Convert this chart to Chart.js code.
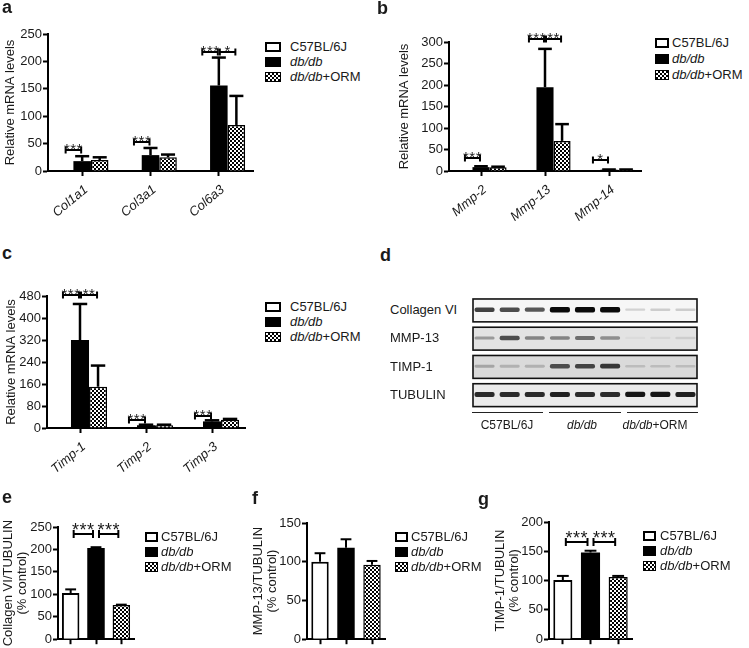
<!DOCTYPE html>
<html>
<head>
<meta charset="utf-8">
<title>Figure</title>
<script src="https://cdn.jsdelivr.net/npm/chart.js@4.4.1/dist/chart.umd.min.js"></script>
<style>
  html,body{margin:0;padding:0;background:#fff;}
  body{width:749px;height:648px;position:relative;overflow:hidden;font-family:'Liberation Sans',Arial,Helvetica,sans-serif;color:#1a1a1a;}
  canvas{position:absolute;}
  .t{position:absolute;white-space:nowrap;}
  .sw{position:absolute;box-sizing:border-box;border:2px solid #000;background:#fff;}
  .sw.k{background:#000;}
  .sw.c{background:repeating-conic-gradient(#000 0 25%,#fff 0 50%) 0 0/4px 4px;border-width:1.5px;}
  .gl{position:absolute;height:1px;background:#222;}
</style>
</head>
<body>
<canvas id="ca"></canvas>
<canvas id="cb"></canvas>
<canvas id="cc"></canvas>
<canvas id="cd"></canvas>
<canvas id="ce"></canvas>
<canvas id="cf"></canvas>
<canvas id="cg"></canvas>
<script>
// ---------------- data ----------------
const GROUPS = ['C57BL/6J', 'db/db', 'db/db+ORM'];

// panel a
const GENES_A = ['Col1a1', 'Col3a1', 'Col6a3'];
const A_WT = [1, 1, 1];
const A_DB = [18, 29, 156];
const A_ORM = [20, 25, 84];
const A_WT_ERR = [0, 0, 0];
const A_DB_ERR = [9, 13, 51];
const A_ORM_ERR = [5, 5, 53];
// [category, from group, to group, height, label]
const A_SIG = [[0, 0, 1, 38, '***'], [1, 0, 1, 53, '***'], [2, 0, 1, 217, '***'], [2, 1, 2, 217, '*']];
const A_YMAX = 250, A_YSTEP = 50;

// panel b
const GENES_B = ['Mmp-2', 'Mmp-13', 'Mmp-14'];
const B_WT = [1, 1, 1];
const B_DB = [9, 195, 3];
const B_ORM = [9, 70, 3];
const B_WT_ERR = [0, 0, 0];
const B_DB_ERR = [2, 89, 0.5];
const B_ORM_ERR = [1, 39, 0.5];
const B_SIG = [[0, 0, 1, 30, '***'], [1, 0, 1, 307, '***'], [1, 1, 2, 307, '**'], [2, 0, 1, 26, '*']];
const B_YMAX = 300, B_YSTEP = 50;

// panel c
const GENES_C = ['Timp-1', 'Timp-2', 'Timp-3'];
const C_WT = [1, 1, 1];
const C_DB = [320, 10, 24];
const C_ORM = [150, 10, 30];
const C_WT_ERR = [0, 0, 0];
const C_DB_ERR = [131, 2, 4];
const C_ORM_ERR = [77, 2, 3];
const C_SIG = [[0, 0, 1, 484, '***'], [0, 1, 2, 484, '**'], [1, 0, 1, 28, '***'], [2, 0, 1, 44, '***']];
const C_YMAX = 480, C_YSTEP = 80;

// panel d (western blot band intensities, 0..1, lanes 1-9)
const BLOT_LANES = ['1', '2', '3', '4', '5', '6', '7', '8', '9'];
const BLOT_PROTEINS = ['Collagen VI', 'MMP-13', 'TIMP-1', 'TUBULIN'];
const BLOT_COL6 = [0.75, 0.7, 0.65, 1, 1, 1, 0.1, 0.12, 0.12];
const BLOT_MMP13 = [0.35, 0.7, 0.45, 0.45, 0.55, 0.4, 0.06, 0.08, 0.12];
const BLOT_TIMP1 = [0.3, 0.25, 0.25, 0.7, 0.75, 0.8, 0.2, 0.2, 0.2];
const BLOT_TUB = [0.85, 0.85, 0.85, 0.9, 0.85, 0.85, 0.95, 0.95, 0.9];

// panels e, f, g (% control)
const E_VALS = [103, 203, 76], E_ERR = [8, 2, 1];
const E_SIG = [[0, 1, 234, '***'], [1, 2, 234, '***']];
const E_YMAX = 250, E_YSTEP = 50;
const F_VALS = [100, 118, 96], F_ERR = [11, 11, 5];
const F_SIG = [];
const F_YMAX = 150, F_YSTEP = 50;
const G_VALS = [101, 148, 106], G_ERR = [7, 3, 2];
const G_SIG = [[0, 1, 166, '***'], [1, 2, 166, '***']];
const G_YMAX = 200, G_YSTEP = 50;

// ---------------- layout / style ----------------
const FONT = "'Liberation Sans', Arial, Helvetica, sans-serif";
const INK = '#1a1a1a';
Chart.defaults.font.family = FONT;
Chart.defaults.color = INK;

const FR = {
  a: {L: 48, R: 253, T: 34, B: 171, yw: 48, pt: 24, xh: 50, pr: 2},
  b: {L: 449, R: 641, T: 42, B: 171, yw: 59, pt: 30, xh: 50, pr: 4},
  c: {L: 47, R: 245, T: 296, B: 428, yw: 47, pt: 26, xh: 45, pr: 4},
  e: {L: 58, R: 134, T: 527, B: 642, yw: 58, pt: 26, xh: 6, pr: 2},
  f: {L: 307, R: 385, T: 523, B: 641, yw: 57, pt: 26, xh: 7, pr: 2},
  g: {L: 549, R: 632, T: 522, B: 640, yw: 59, pt: 26, xh: 8, pr: 2}
};
const TOP_STYLE = {rot: 40, tsize: 13, tlh: 1.2, errW: 2.5, capW: 2.5, cap: 0.8, brW: 2, tick: 3.5, inset: 1, starFont: '15px ' + FONT, starDy: 4, starSp: '0.5px'};
const BOT_STYLE = {rot: 0, tsize: 13, tlh: 1.05, errW: 2, capW: 2, cap: 0.62, brW: 2, tick: 4, inset: 3, starFont: '18px ' + FONT, starDy: 2, starSp: '0.5px'};

function place(id, f) {
  const cv = document.getElementById(id);
  cv.width = f.yw + (f.R - f.L) + f.pr;
  cv.height = f.pt + (f.B - f.T) + f.xh;
  cv.style.width = cv.width + 'px';
  cv.style.height = cv.height + 'px';
  cv.style.left = (f.L - f.yw) + 'px';
  cv.style.top = (f.T - f.pt) + 'px';
  return cv;
}

function checker(cv) {
  const c = document.createElement('canvas');
  c.width = 4; c.height = 4;
  const x = c.getContext('2d');
  x.fillStyle = '#fff'; x.fillRect(0, 0, 4, 4);
  x.fillStyle = '#000'; x.fillRect(0, 0, 2, 2); x.fillRect(2, 2, 2, 2);
  return cv.getContext('2d').createPattern(c, 'repeat');
}

function makeMarks(brackets, st) {
  return {
    id: 'marks',
    afterDatasetsDraw(chart) {
      const ctx = chart.ctx, ys = chart.scales.y;
      const seg = (x0, y0, x1, y1) => { ctx.beginPath(); ctx.moveTo(x0, y0); ctx.lineTo(x1, y1); ctx.stroke(); };
      ctx.save();
      ctx.strokeStyle = '#000';
      chart.data.datasets.forEach((ds, di) => {
        if (!ds.errors) return;
        const meta = chart.getDatasetMeta(di);
        ds.errors.forEach((e, i) => {
          if (!e) return;
          const bar = meta.data[i];
          const y0 = ys.getPixelForValue(ds.data[i]);
          const y1 = ys.getPixelForValue(ds.data[i] + e);
          const hw = bar.width * st.cap / 2;
          ctx.lineWidth = st.errW; seg(bar.x, y0, bar.x, y1);
          ctx.lineWidth = st.capW; seg(bar.x - hw, y1, bar.x + hw, y1);
        });
      });
      brackets.forEach(b => {
        const p = chart.getDatasetMeta(b.p[0]).data[b.p[1]];
        const q = chart.getDatasetMeta(b.q[0]).data[b.q[1]];
        const x0 = p.x + st.inset, x1 = q.x - st.inset;
        const y = Math.round(ys.getPixelForValue(b.y));
        ctx.lineWidth = st.brW;
        seg(x0, y, x1, y);
        seg(x0, y - st.tick, x0, y + st.tick);
        seg(x1, y - st.tick, x1, y + st.tick);
        ctx.fillStyle = INK; ctx.font = st.starFont;
        if ('letterSpacing' in ctx) ctx.letterSpacing = st.starSp;
        ctx.textAlign = 'center'; ctx.textBaseline = 'alphabetic';
        ctx.fillText(b.label, (x0 + x1) / 2, y + st.starDy);
      });
      ctx.restore();
    }
  };
}

function baseOptions(f, ymax, ystep, title, st, showX) {
  const tickGrid = {display: true, drawOnChartArea: false, drawTicks: true, tickLength: 5, tickWidth: 2, tickColor: '#000', offset: false};
  return {
    responsive: false, maintainAspectRatio: false, animation: false, devicePixelRatio: 1, events: [],
    layout: {autoPadding: false, padding: {top: f.pt, right: f.pr, bottom: 0, left: 0}},
    plugins: {legend: {display: false}, tooltip: {enabled: false}},
    scales: {
      x: {
        offset: true, z: 1, grid: tickGrid,
        border: {display: true, color: '#000', width: 2},
        ticks: {display: showX, autoSkip: false, minRotation: st.rot, maxRotation: st.rot, padding: 6, labelOffset: 4, color: INK, font: {size: 13, style: 'italic'}},
        afterFit: s => { s.height = f.xh; }
      },
      y: {
        min: 0, max: ymax,
        grid: Object.assign({}, tickGrid),
        border: {display: true, color: '#000', width: 2},
        ticks: {stepSize: ystep, padding: 1, color: INK, font: {size: 13}},
        title: {display: true, text: title, color: INK, font: {size: st.tsize, lineHeight: st.tlh}, padding: {top: st.tpad, bottom: 0}},
        afterFit: s => { s.width = f.yw; }
      }
    }
  };
}

function groupedPanel(id, f, cats, vals, errs, sig, ymax, ystep, title, catPct, tpad) {
  const cv = place(id, f);
  const pat = checker(cv);
  const st = Object.assign({}, TOP_STYLE, {tpad});
  const brackets = sig.map(s => ({p: [s[1], s[0]], q: [s[2], s[0]], y: s[3], label: s[4]}));
  return new Chart(cv, {
    type: 'bar',
    data: {
      labels: cats,
      datasets: vals.map((v, k) => ({
        label: GROUPS[k], data: v, errors: errs[k],
        backgroundColor: ['#fff', '#000', pat][k],
        borderColor: '#000', borderWidth: [2, 0, 1.5][k], borderSkipped: 'start',
        categoryPercentage: catPct, barPercentage: 1
      }))
    },
    options: baseOptions(f, ymax, ystep, title, st, true),
    plugins: [makeMarks(brackets, st)]
  });
}

function singlePanel(id, f, vals, errs, sig, ymax, ystep, title, barPct, tpad) {
  const cv = place(id, f);
  const pat = checker(cv);
  const st = Object.assign({}, BOT_STYLE, {tpad});
  const brackets = sig.map(s => ({p: [0, s[0]], q: [0, s[1]], y: s[2], label: s[3]}));
  return new Chart(cv, {
    type: 'bar',
    data: {
      labels: GROUPS,
      datasets: [{
        data: vals, errors: errs,
        backgroundColor: ['#fff', '#000', pat],
        borderColor: '#000', borderWidth: [2, 0, 1.5], borderSkipped: 'start',
        categoryPercentage: 1, barPercentage: barPct
      }]
    },
    options: baseOptions(f, ymax, ystep, title, st, false),
    plugins: [makeMarks(brackets, st)]
  });
}

groupedPanel('ca', FR.a, GENES_A, [A_WT, A_DB, A_ORM], [A_WT_ERR, A_DB_ERR, A_ORM_ERR], A_SIG, A_YMAX, A_YSTEP, 'Relative mRNA levels', 0.77, 3);
groupedPanel('cb', FR.b, GENES_B, [B_WT, B_DB, B_ORM], [B_WT_ERR, B_DB_ERR, B_ORM_ERR], B_SIG, B_YMAX, B_YSTEP, 'Relative mRNA levels', 0.8, 7);
groupedPanel('cc', FR.c, GENES_C, [C_WT, C_DB, C_ORM], [C_WT_ERR, C_DB_ERR, C_ORM_ERR], C_SIG, C_YMAX, C_YSTEP, 'Relative mRNA levels', 0.82, 4);
singlePanel('ce', FR.e, E_VALS, E_ERR, E_SIG, E_YMAX, E_YSTEP, ['Collagen VI/TUBULIN', '(% control)'], 0.69, 2);
singlePanel('cf', FR.f, F_VALS, F_ERR, F_SIG, F_YMAX, F_YSTEP, ['MMP-13/TUBULIN', '(% control)'], 0.67, 2);
singlePanel('cg', FR.g, G_VALS, G_ERR, G_SIG, G_YMAX, G_YSTEP, ['TIMP-1/TUBULIN', '(% control)'], 0.69, 4);

// ---------------- blot (panel d) ----------------
(function () {
  const cv = document.getElementById('cd');
  const box = {x: 472, y: 297, w: 226, h: 113};
  cv.width = box.w; cv.height = box.h;
  cv.style.width = box.w + 'px'; cv.style.height = box.h + 'px';
  cv.style.left = box.x + 'px'; cv.style.top = box.y + 'px';
  const rowsData = [BLOT_COL6, BLOT_MMP13, BLOT_TIMP1, BLOT_TUB];
  const rowBg = ['#f6f6f6', '#e3e3e3', '#dadada', '#ebebeb'];
  const rowPlugin = {
    id: 'rows',
    beforeDatasetsDraw(chart) {
      const ctx = chart.ctx, ys = chart.scales.y, a = chart.chartArea;
      ctx.save();
      rowsData.forEach((_, r) => {
        const y0 = ys.getPixelForValue(r + 0.07), y1 = ys.getPixelForValue(r + 0.88);
        ctx.fillStyle = rowBg[r];
        ctx.fillRect(a.left + 1, y0, a.right - a.left - 2, y1 - y0);
        ctx.strokeStyle = '#111'; ctx.lineWidth = 1.6;
        ctx.strokeRect(a.left + 1, y0, a.right - a.left - 2, y1 - y0);
      });
      ctx.restore();
    }
  };
  new Chart(cv, {
    type: 'bar',
    data: {
      labels: BLOT_LANES,
      datasets: rowsData.map((arr, r) => ({
        label: BLOT_PROTEINS[r],
        data: arr.map(v => { const h = 0.07 + 0.12 * v; return [r + 0.45 - h / 2, r + 0.45 + h / 2]; }),
        backgroundColor: arr.map(v => { const g = Math.round(232 - 222 * v); return `rgb(${g},${g},${g})`; }),
        borderWidth: 0, borderRadius: 2, borderSkipped: false,
        barPercentage: 0.8, categoryPercentage: 1, grouped: false
      }))
    },
    options: {
      responsive: false, maintainAspectRatio: false, animation: false, devicePixelRatio: 1, events: [],
      layout: {autoPadding: false, padding: 0},
      plugins: {legend: {display: false}, tooltip: {enabled: false}},
      scales: {x: {display: false, offset: true}, y: {display: false, min: 0, max: 4, reverse: true}}
    },
    plugins: [rowPlugin]
  });
})();

// ---------------- text ----------------
function addText(html, x, cy, size, o) {
  o = o || {};
  const d = document.createElement('div');
  d.className = 't';
  d.innerHTML = html;
  d.style.fontSize = size + 'px';
  d.style.lineHeight = (size * 1.2) + 'px';
  d.style.top = (cy - size * 0.62) + 'px';
  d.style.left = x + 'px';
  if (o.center) d.style.transform = 'translateX(-50%)';
  if (o.bold) d.style.fontWeight = 'bold';
  document.body.appendChild(d);
  return d;
}
function panelLetter(ch, x, baseline) {
  const d = addText(ch, x, 0, 18, {bold: true});
  d.style.top = (baseline - 18 * 0.9465) + 'px';
}
panelLetter('a', 2, 14);
panelLetter('b', 377, 15);
panelLetter('c', 2, 260);
panelLetter('d', 380, 262);
panelLetter('e', 2, 504);
panelLetter('f', 252, 505);
panelLetter('g', 478, 506);

const LEG_HTML = ['C57BL/6J', '<i>db/db</i>', '<i>db/db</i>+ORM'];
const LEG_CLS = ['sw', 'sw k', 'sw c'];
function legend(boxX, boxW, textX, rows) {
  rows.forEach((cy, k) => {
    const s = document.createElement('div');
    s.className = LEG_CLS[k];
    s.style.left = boxX + 'px'; s.style.top = (cy - 5) + 'px';
    s.style.width = boxW + 'px'; s.style.height = '10px';
    document.body.appendChild(s);
    addText(LEG_HTML[k], textX, cy, 13);
  });
}
legend(265, 16, 290, [47, 62, 77]);
legend(655, 14, 672, [43, 59, 75]);
legend(265, 16, 290, [307, 322, 337]);
legend(145, 13, 161, [537, 552, 567]);
legend(395, 13, 411, [537, 552, 567]);
legend(643, 13, 660, [536, 551, 566]);

// blot labels
[310, 338, 367, 395].forEach((cy, r) => addText(BLOT_PROTEINS[r], 390, cy, 13));
// group underlines and labels
[[472, 543], [549, 621], [627, 698]].forEach(([x0, x1]) => {
  const l = document.createElement('div');
  l.className = 'gl';
  l.style.left = x0 + 'px'; l.style.width = (x1 - x0) + 'px'; l.style.top = '412px';
  document.body.appendChild(l);
});
[[507, 0], [582, 1], [655, 2]].forEach(([cx, k]) => addText(LEG_HTML[k], cx, 425, 12, {center: true}));
</script>
</body>
</html>
